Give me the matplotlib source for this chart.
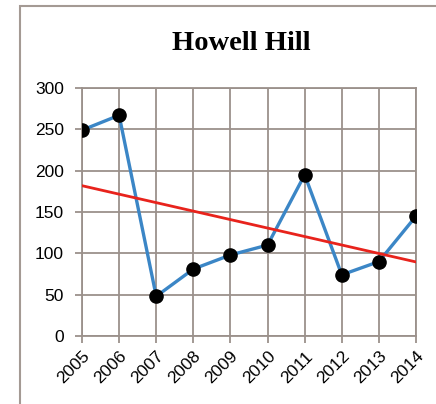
import numpy as np
import matplotlib.pyplot as plt
from matplotlib.patches import Rectangle

years = [2005, 2006, 2007, 2008, 2009, 2010, 2011, 2012, 2013, 2014]
counts = [249, 267, 48, 81, 98, 110, 195, 74, 90, 145]
yticks = [0, 50, 100, 150, 200, 250, 300]

# linea de tendencia (minimos cuadrados)
m, b = np.polyfit(years, counts, 1)
trend = [m * x + b for x in years]

grid_c = "#9b918b"

fig = plt.figure(figsize=(4.36, 4.04), dpi=100)
fig.patch.set_facecolor("white")
fig.patches.append(Rectangle((20 / 436, -0.05), 1.0, 1.05 - 6 / 404, transform=fig.transFigure,
                             fill=False, edgecolor="#a49a94", linewidth=1.5))

ax = fig.add_axes([82 / 436, 1 - 336 / 404, (416 - 82) / 436, (336 - 88) / 404])
ax.plot(years, counts, color="#3b86c6", linewidth=2.4, zorder=3)
ax.plot(years, counts, "o", color="black", markersize=9.5, zorder=4)
ax.plot([years[0], years[-1]], [trend[0], trend[-1]], color="#e8231c", linewidth=2, zorder=5)

ax.set_xlim(years[0], years[-1])
ax.set_ylim(0, 300)
ax.set_xticks(years)
ax.set_xticklabels([str(y) for y in years], rotation=45, ha="right", rotation_mode="anchor",
                   fontsize=12.5, family="Liberation Sans")
ax.set_yticks(yticks)
ax.set_yticklabels([str(t) for t in yticks], fontsize=12.5, family="Liberation Sans")
ax.tick_params(axis="both", color=grid_c, length=5, width=1.3)
ax.tick_params(axis="y", pad=8)
ax.tick_params(axis="x", pad=4)
ax.grid(True, color=grid_c, linewidth=1.3)
ax.set_axisbelow(True)
for s in ax.spines.values():
    s.set_color(grid_c)
    s.set_linewidth(1.3)

fig.text(241 / 436, 1 - 44 / 404, "Howell Hill", ha="center", va="center",
         fontsize=20.5, fontweight="bold", family="Liberation Serif")

plt.savefig("out.png", dpi=100)
